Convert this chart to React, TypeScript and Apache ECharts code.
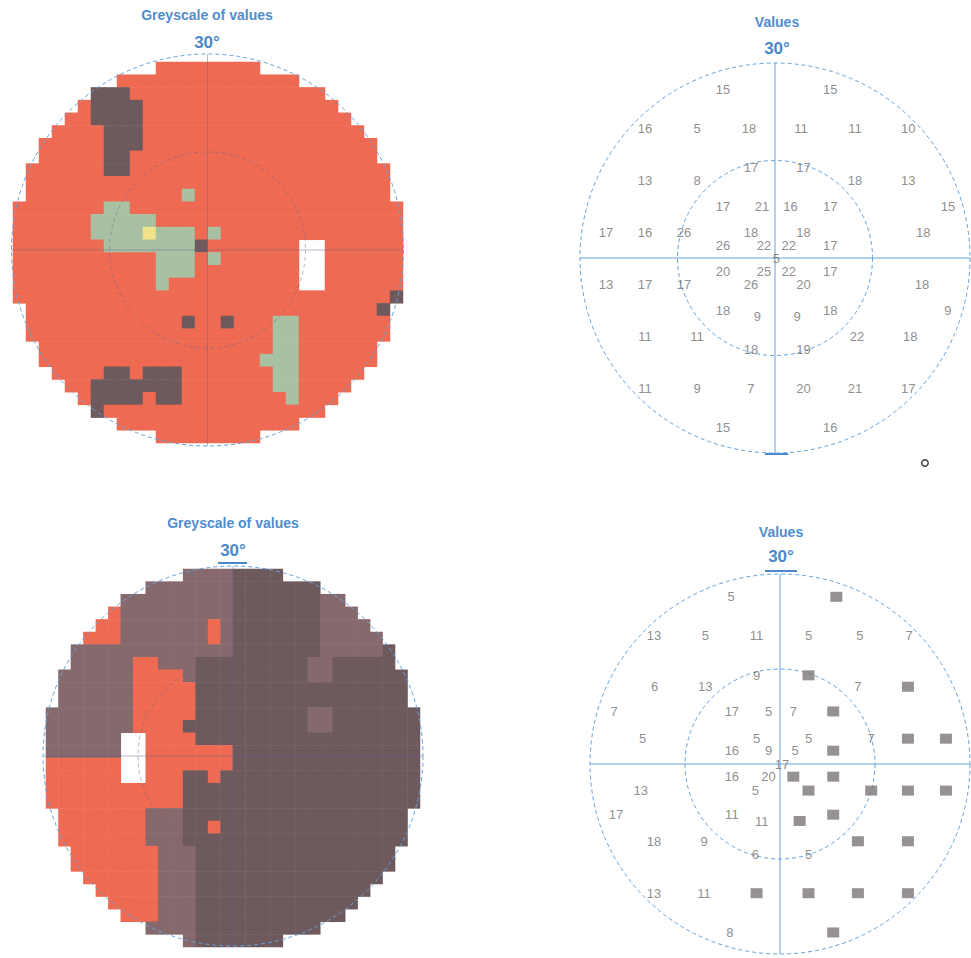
import React, { useEffect, useRef } from "react";
import * as echarts from "echarts";

// ---------- greyscale maps (30 x 30 cells of 2°, '.' = outside the field) ----------
// R = red, D = dark, M = medium dark, G = green, Y = yellow, W = blind spot (white)
const TL_ROWS = [
  "...........RRRRRRRR...........",
  "........RRRRRRRRRRRRRR........",
  "......DDDRRRRRRRRRRRRRRR......",
  ".....RDDDDRRRRRRRRRRRRRRR.....",
  "....RRDDDDRRRRRRRRRRRRRRRR....",
  "...RRRRDDDRRRRRRRRRRRRRRRRR...",
  "..RRRRRDDDRRRRRRRRRRRRRRRRRR..",
  "..RRRRRDDRRRRRRRRRRRRRRRRRRR..",
  ".RRRRRRDDRRRRRRRRRRRRRRRRRRRR.",
  ".RRRRRRRRRRRRRRRRRRRRRRRRRRRR.",
  ".RRRRRRRRRRRRGRRRRRRRRRRRRRRR.",
  "RRRRRRRGGRRRRRRRRRRRRRRRRRRRRR",
  "RRRRRRGGGGGRRRRRRRRRRRRRRRRRRR",
  "RRRRRRGGGGYGGGRGRRRRRRRRRRRRRR",
  "RRRRRRRGGGGGGGDRRRRRRRWWRRRRRR",
  "RRRRRRRRRRRGGGRGRRRRRRWWRRRRRR",
  "RRRRRRRRRRRGGGRRRRRRRRWWRRRRRR",
  "RRRRRRRRRRRGRRRRRRRRRRWWRRRRRR",
  "RRRRRRRRRRRRRRRRRRRRRRRRRRRRRD",
  ".RRRRRRRRRRRRRRRRRRRRRRRRRRRD.",
  ".RRRRRRRRRRRRDRRDRRRGGRRRRRRR.",
  ".RRRRRRRRRRRRRRRRRRRGGRRRRRRR.",
  "..RRRRRRRRRRRRRRRRRRGGRRRRRR..",
  "..RRRRRRRRRRRRRRRRRGGGRRRRRR..",
  "...RRRRDDRDDDRRRRRRRGGRRRRR...",
  "....RRDDDDDDDRRRRRRRGGRRRR....",
  ".....RDDDDRDDRRRRRRRRGRRR.....",
  "......DRRRRRRRRRRRRRRRRR......",
  "........RRRRRRRRRRRRRR........",
  "...........RRRRRRRR...........",
];

const BL_ROWS = [
  "...........MMMMDDDD...........",
  "........MMMMMMMDDDDDDD........",
  "......MMMMMMMMMDDDDDDDMM......",
  ".....RMMMMMMMMMDDDDDDDMMM.....",
  "....RRMMMMMMMRMDDDDDDDMMMM....",
  "...RRRMMMMMMMRMDDDDDDDMMMMM...",
  "..MMMMMMMMMMMMMDDDDDDDMMMMMD..",
  "..MMMMMRRMMMDDDDDDDDDMMDDDDD..",
  ".MMMMMMRRRRMDDDDDDDDDMMDDDDDD.",
  ".MMMMMMRRRRRDDDDDDDDDDDDDDDDD.",
  ".MMMMMMRRRRRDDDDDDDDDDDDDDDDD.",
  "MMMMMMMRRRRRDDDDDDDDDMMDDDDDDD",
  "MMMMMMMRRRRDDDDDDDDDDMMDDDDDDD",
  "MMMMMMWWRRRRDDDDDDDDDDDDDDDDDD",
  "MMMMMMWWRRRRRRRDDDDDDDDDDDDDDD",
  "RRRRRRWWRRRRRRRDDDDDDDDDDDDDDD",
  "RRRRRRWWRRRDDRDDDDDDDDDDDDDDDD",
  "RRRRRRRRRRRDDDDDDDDDDDDDDDDDDD",
  "RRRRRRRRRRRDDDDDDDDDDDDDDDDDDD",
  ".RRRRRRRMMMDDDDDDDDDDDDDDDDDD.",
  ".RRRRRRRMMMDDRDDDDDDDDDDDDDDD.",
  ".RRRRRRRMMMDDDDDDDDDDDDDDDDDD.",
  "..RRRRRRRMMMDDDDDDDDDDDDDDDD..",
  "..RRRRRRRMMMDDDDDDDDDDDDDDDD..",
  "...RRRRRRMMMDDDDDDDDDDDDDDD...",
  "....RRRRRMMMDDDDDDDDDDDDDD....",
  ".....RRRRMMMDDDDDDDDDDDDD.....",
  "......RRRMMMDDDDDDDDDDDD......",
  "........MMMMDDDDDDDDDD........",
  "...........MDDDDDDD...........",
];

// ---------- threshold values [x°, y°, value] ----------
const TR_VALUES: [number, number, number][] = [
  [-8, 26, 15], [8.5, 26, 15],
  [-20, 20, 16], [-12, 20, 5], [-4, 20, 18], [4, 20, 11], [12.3, 20, 11], [20.5, 20, 10],
  [-20, 12, 13], [-12, 12, 8], [-3.7, 14, 17], [4.4, 14, 17], [12.3, 12, 18], [20.5, 12, 13],
  [-8, 8, 17], [-2, 8, 21], [2.4, 8, 16], [8.5, 8, 17], [26.6, 8, 15],
  [-26, 4, 17], [-20, 4, 16], [-14, 4, 26], [-3.7, 4, 18], [4.4, 4, 18], [22.8, 4, 18],
  [-8, 2, 26], [-1.7, 2, 22], [2.1, 2, 22], [8.5, 2, 17],
  [0.2, 0, 5],
  [-8, -2, 20], [-1.7, -2, 25], [2.1, -2, 22], [8.5, -2, 17],
  [-26, -4, 13], [-20, -4, 17], [-14, -4, 17], [-3.7, -4, 26], [4.4, -4, 20], [22.6, -4, 18],
  [-8, -8, 18], [-2.7, -9, 9], [3.4, -9, 9], [8.5, -8, 18], [26.6, -8, 9],
  [-20, -12, 11], [-12, -12, 11], [12.6, -12, 22], [20.8, -12, 18],
  [-3.7, -14, 18], [4.4, -14, 19],
  [-20, -20, 11], [-12, -20, 9], [-3.7, -20, 7], [4.4, -20, 20], [12.3, -20, 21], [20.5, -20, 17],
  [-8, -26, 15], [8.5, -26, 16],
];

const BR_VALUES: [number, number, number][] = [
  [-7.7, 26.4, 5],
  [-19.9, 20.3, 13], [-11.8, 20.3, 5], [-3.7, 20.3, 11], [4.5, 20.3, 5], [12.6, 20.3, 5], [20.4, 20.3, 7],
  [-19.8, 12.2, 6], [-11.8, 12.2, 13], [-3.7, 14, 9], [12.3, 12.2, 7],
  [-26.2, 8.3, 7], [-7.6, 8.3, 17], [-1.8, 8.3, 5], [2.1, 8.3, 7],
  [-21.7, 4, 5], [-3.7, 4, 5], [4.5, 4, 5], [14.4, 4, 7],
  [-7.6, 2.1, 16], [-1.8, 2.1, 9], [2.4, 2.1, 5],
  [0.3, 0, 17],
  [-7.6, -2, 16], [-1.8, -2, 20],
  [-22, -4.2, 13], [-3.9, -4.2, 5],
  [-25.9, -8, 17], [-7.6, -8, 11], [-2.9, -9, 11],
  [-19.9, -12.2, 18], [-12, -12.2, 9],
  [-3.9, -14.3, 6], [4.5, -14.3, 5],
  [-19.9, -20.4, 13], [-12, -20.4, 11],
  [-7.9, -26.6, 8],
];

// points not seen (filled squares)
const BR_SQUARES: [number, number][] = [
  [8.9, 26.4], [4.5, 14], [20.2, 12.2], [8.4, 8.3], [20.2, 4], [26.2, 4], [8.4, 2.1],
  [2.1, -2], [8.4, -2], [4.5, -4.2], [14.4, -4.2], [20.2, -4.2], [26.2, -4.2],
  [3.1, -9], [8.4, -8], [12.3, -12.2], [20.2, -12.2],
  [-3.7, -20.4], [4.5, -20.4], [12.3, -20.4], [20.2, -20.4], [8.4, -26.6],
];

const TITLES = ["Greyscale of values", "Values", "Greyscale of values", "Values"];
const ECC_LABEL = "30°";
const CELL_INDEX = Array.from({ length: 30 }, (_, i) => String(i));

const CLASS_INDEX: Record<string, number> = { R: 0, D: 1, M: 2, G: 3, Y: 4 };
const CLASS_COLORS = ["#EF6A53", "#6E5A5D", "#86696C", "#A8C1A3", "#F0E38C"];

const BLUE = "#62A2DC";
const TITLE_BLUE = "#4F8DD0";
const FAINT = "rgba(105,100,135,0.45)";

function toCells(rows: string[]) {
  const out: number[][] = [];
  rows.forEach((row, r) => {
    for (let c = 0; c < row.length; c++) {
      const k = CLASS_INDEX[row[c]];
      if (k !== undefined) out.push([c, r, k]);
    }
  });
  return out;
}

// panel frames: [cx, cy, radius]
const PANELS = [
  { cx: 207.5, cy: 250, r: 196, map: true },
  { cx: 775, cy: 258, r: 195, map: false },
  { cx: 233, cy: 756, r: 190, map: true },
  { cx: 780, cy: 764, r: 190, map: false },
];
const TITLE_POS = [
  [207, 15, 42],
  [777, 22, 48],
  [233, 523, 550],
  [781, 532, 556],
];

export default function App() {
  const ref = useRef<HTMLDivElement>(null);
  useEffect(() => {
    if (!ref.current) return;
    const chart = echarts.init(ref.current, undefined, { renderer: "svg" });

    const hiddenCat = (gridIndex: number, inverse: boolean) => ({
      type: "category",
      gridIndex,
      data: CELL_INDEX,
      inverse,
      axisLine: { show: false },
      axisTick: { show: false },
      axisLabel: { show: false },
      splitLine: { show: false },
    });
    const hiddenVal = (gridIndex: number) => ({
      type: "value",
      gridIndex,
      min: -30,
      max: 30,
      axisLine: { show: false },
      axisTick: { show: false },
      axisLabel: { show: false },
      splitLine: { show: false },
    });

    const labelStyle = {
      show: true,
      position: "inside",
      formatter: (p: any) => String(p.value[2]),
      color: "#707070",
      fontSize: 13,
      fontFamily: "Liberation Sans, Arial, sans-serif",
    };

    const graphicEls: any[] = [];
    TITLE_POS.forEach((t, i) => {
      graphicEls.push({
        type: "text",
        x: t[0],
        y: t[1],
        style: {
          text: TITLES[i],
          fill: TITLE_BLUE,
          font: "bold 14px 'Liberation Sans', Arial, sans-serif",
          align: "center",
          verticalAlign: "middle",
          textAlign: "center",
          textVerticalAlign: "middle",
        },
      });
      graphicEls.push({
        type: "text",
        x: t[0],
        y: t[2],
        style: {
          text: ECC_LABEL,
          fill: "#4A88C8",
          font: "bold 17px 'Liberation Sans', Arial, sans-serif",
          align: "center",
          verticalAlign: "middle",
          textAlign: "center",
          textVerticalAlign: "middle",
        },
      });
    });
    // short thick ticks on the frames
    graphicEls.push({ type: "line", shape: { x1: 218, y1: 563, x2: 247, y2: 563 }, style: { stroke: "#4A88C8", lineWidth: 2 } });
    graphicEls.push({ type: "line", shape: { x1: 765, y1: 571, x2: 797, y2: 571 }, style: { stroke: "#4A88C8", lineWidth: 2 } });
    graphicEls.push({ type: "line", shape: { x1: 765, y1: 454, x2: 788, y2: 454 }, style: { stroke: "#4A88C8", lineWidth: 2 } });
    graphicEls.push({ type: "circle", shape: { cx: 925, cy: 463, r: 3.2 }, style: { fill: "none", stroke: "#3a3a3a", lineWidth: 1.4 } });

    chart.setOption({
      animation: false,
      backgroundColor: "#ffffff",
      grid: [
        { left: 13, top: 62, width: 390, height: 381 },
        { left: 46, top: 569, width: 374, height: 378 },
        { left: 580, top: 63, width: 390, height: 390 },
        { left: 590, top: 574, width: 380, height: 380 },
      ],
      xAxis: [hiddenCat(0, false), hiddenCat(1, false), hiddenVal(2), hiddenVal(3)],
      yAxis: [hiddenCat(0, true), hiddenCat(1, true), hiddenVal(2), hiddenVal(3)],
      polar: PANELS.map((p) => ({ center: [p.cx, p.cy], radius: p.r })),
      angleAxis: PANELS.map((p, i) => ({
        polarIndex: i,
        type: "value",
        min: 0,
        max: 360,
        interval: 90,
        startAngle: 90,
        z: 5,
        axisLine: { show: true, lineStyle: { color: BLUE, width: 1, type: [4, 3] } },
        axisTick: { show: false },
        axisLabel: { show: false },
        splitLine: { show: true, lineStyle: { color: p.map ? FAINT : BLUE, width: 1 } },
      })),
      radiusAxis: PANELS.map((p, i) => ({
        polarIndex: i,
        type: "value",
        min: 0,
        max: 30,
        interval: 15,
        z: 5,
        axisLine: { show: false },
        axisTick: { show: false },
        axisLabel: { show: false },
        splitLine: {
          show: true,
          lineStyle: {
            color: ["rgba(0,0,0,0)", p.map ? FAINT : BLUE, "rgba(0,0,0,0)"],
            width: 1,
            type: [4, 3],
          },
        },
      })),
      visualMap: [
        {
          type: "piecewise",
          show: false,
          seriesIndex: [0, 1],
          dimension: 2,
          pieces: CLASS_COLORS.map((c, i) => ({ value: i, color: c })),
        },
      ],
      series: [
        {
          type: "heatmap",
          xAxisIndex: 0,
          yAxisIndex: 0,
          data: toCells(TL_ROWS),
          emphasis: { disabled: true },
          z: 1,
        },
        {
          type: "heatmap",
          xAxisIndex: 1,
          yAxisIndex: 1,
          data: toCells(BL_ROWS),
          emphasis: { disabled: true },
          z: 1,
        },
        {
          type: "scatter",
          xAxisIndex: 2,
          yAxisIndex: 2,
          symbol: "circle",
          symbolSize: 2,
          itemStyle: { color: "rgba(0,0,0,0)" },
          label: labelStyle,
          data: TR_VALUES,
          z: 10,
          emphasis: { disabled: true },
        },
        {
          type: "scatter",
          xAxisIndex: 3,
          yAxisIndex: 3,
          symbol: "circle",
          symbolSize: 2,
          itemStyle: { color: "rgba(0,0,0,0)" },
          label: labelStyle,
          data: BR_VALUES,
          z: 10,
          emphasis: { disabled: true },
        },
        {
          type: "scatter",
          xAxisIndex: 3,
          yAxisIndex: 3,
          symbol: "rect",
          symbolSize: [12, 10],
          itemStyle: { color: "#7C7677" },
          data: BR_SQUARES,
          z: 10,
          emphasis: { disabled: true },
        },
      ],
      graphic: { elements: graphicEls },
    });

    return () => chart.dispose();
  }, []);

  return (
    <div
      ref={ref}
      style={{ position: "absolute", left: 0, top: 0, width: 971, height: 958 }}
    />
  );
}
